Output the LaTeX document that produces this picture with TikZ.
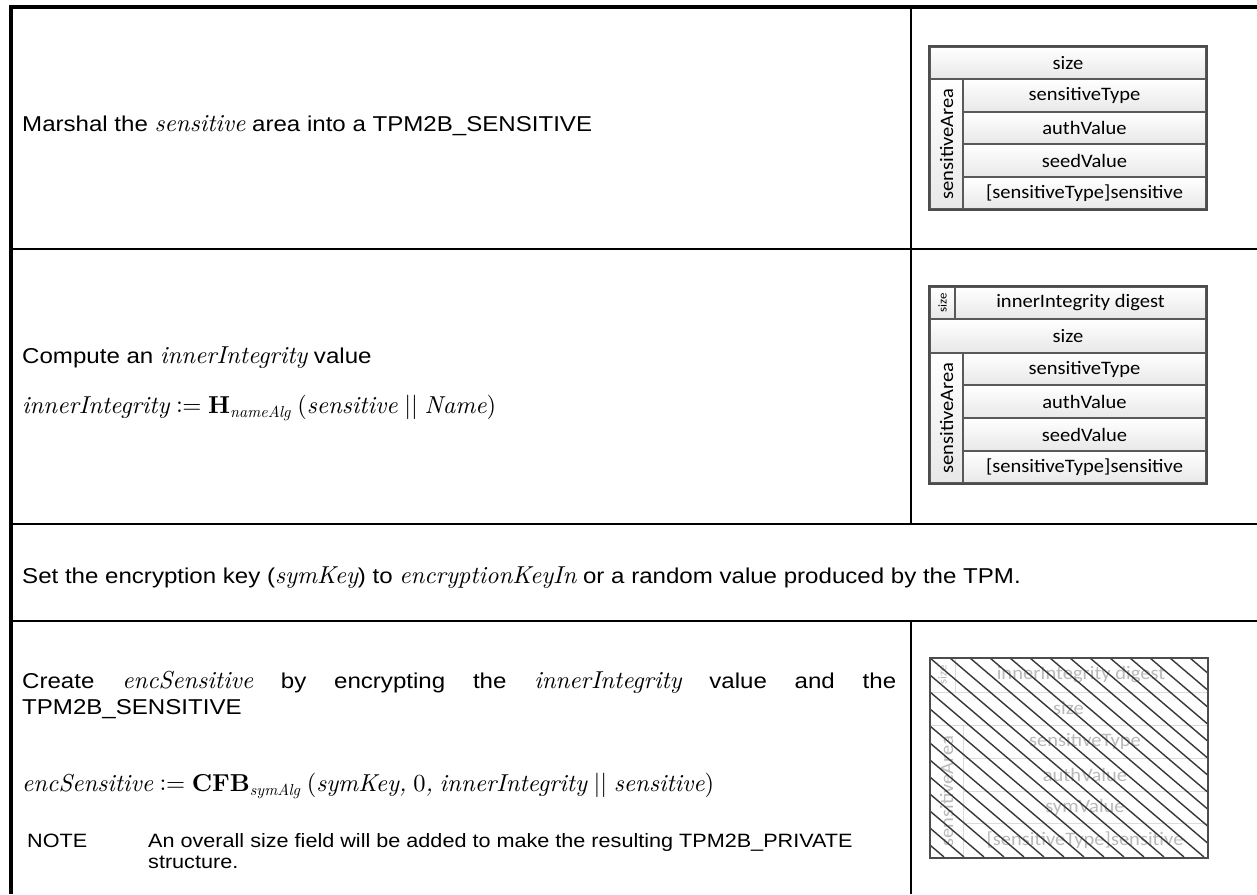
\documentclass[tikz,border=0pt]{standalone}
\usepackage{fontspec}
\setmainfont[FakeStretch=1.12]{Liberation Sans}
\newfontfamily\boxfont[FakeStretch=1.08]{Carlito}
\newfontfamily\mfont{lmroman10}[Extension=.otf, UprightFont=*-regular, ItalicFont=*-italic, BoldFont=*-bold]
\newcommand{\msize}{\fontsize{24.5}{26}\selectfont}
\newcommand{\vi}[1]{{\mfont\itshape\msize #1}}
\newcommand{\vb}[1]{{\mfont\bfseries\msize #1}}
\newcommand{\vsub}[1]{\raisebox{-4pt}{\mfont\itshape\fontsize{16}{16}\selectfont #1}}
\newcommand{\defeq}{{\mfont\msize\raisebox{1pt}{:}\kern-0.5pt=}}
\newcommand{\vup}[1]{{\mfont\msize #1}}
\tikzset{
  frame/.style={line width=4pt, black},
  rule/.style={line width=1.8pt, black},
  txt/.style={anchor=base west, inner sep=0pt, font=\fontsize{21.5}{26}\selectfont},
  notetxt/.style={anchor=base west, inner sep=0pt, font=\fontsize{19.3}{21}\selectfont},
  cell/.style={draw=black!65, line width=1.2pt, top color=white, bottom color=black!9,
    inner sep=0pt, font=\boxfont\fontsize{19}{19}\selectfont, text=black},
  ghost/.style={draw=black!14, line width=1pt, fill=white, inner sep=0pt,
    font=\boxfont\fontsize{19}{19}\selectfont, text=black!27},
  vlabel/.style={inner sep=0pt, font=\boxfont\fontsize{19}{19}\selectfont, text=black},
  vlabelsmall/.style={inner sep=0pt, font=\boxfont\fontsize{12}{12}\selectfont, text=black},
  boxedge/.style={draw=black!70, line width=2pt},
  hatch/.style={black!78, line width=1.4pt},
}
\begin{document}
\begin{tikzpicture}[x=1pt,y=-1pt]
\useasboundingbox (0,0) rectangle (1257,894);

% table rules
\draw[frame] (11,894) -- (11,7) -- (1257,7);
\draw[rule] (11,249) -- (1257,249);
\draw[rule] (11,524) -- (1257,524);
\draw[rule] (11,621) -- (1257,621);
\draw[rule] (911,7) -- (911,524);
\draw[rule] (911,621) -- (911,894);

% row 1
\node[txt] (t1) at (22,131) {Marshal the \vi{sensitive} area into a TPM2B\_SENSITIVE};

% row 2
\node[txt] (t2a) at (22,363) {Compute an \vi{innerIntegrity} value};
\node[txt] (t2b) at (22,413) {\vi{innerIntegrity} \defeq{} \vb{H}\vsub{nameAlg} \vup{(}\vi{sensitive} \vup{||} \vi{Name}\vup{)}};

% row 3
\node[txt] (t3) at (22,583) {Set the encryption key (\vi{symKey}) to \vi{encryptionKeyIn} or a random value produced by the TPM.};

% row 4
\node[txt] (t4a) at (22,688) {\makebox[874pt][s]{Create \vi{encSensitive} by encrypting the \vi{innerIntegrity} value and the}};
\node[txt] (t4b) at (22,714) {TPM2B\_SENSITIVE};
\node[txt] (t4c) at (22,791) {\vi{encSensitive} \defeq{} \vb{CFB}\vsub{symAlg} \vup{(}\vi{symKey,} \vup{0}\vi{,} \vi{innerIntegrity} \vup{||} \vi{sensitive}\vup{)}};
\node[notetxt] (n1) at (27,847) {NOTE};
\node[notetxt] (n2) at (148,847) {An overall size field will be added to make the resulting TPM2B\_PRIVATE};
\node[notetxt] (n3) at (148,868) {structure.};

% box 1
\node[cell, minimum width=276, minimum height=32] (b1size) at (1068,63) {size};
\node[cell, minimum width=33, minimum height=130] (b1area) at (946.5,144) {};
\node[vlabel, rotate=90] (b1arealbl) at (b1area.center) {sensitiveArea};
\node[cell, minimum width=243, minimum height=33] (b1t) at (1084.5,95.5) {sensitiveType};
\node[cell, minimum width=243, minimum height=32] (b1a) at (1084.5,128) {authValue};
\node[cell, minimum width=243, minimum height=33] (b1s) at (1084.5,160.5) {seedValue};
\node[cell, minimum width=243, minimum height=32] (b1x) at (1084.5,193) {[sensitiveType]sensitive};
\draw[boxedge] (b1size.north west) rectangle (b1x.south east);

% box 2
\node[cell, minimum width=25, minimum height=32] (b2sz) at (942.5,303) {};
\node[vlabelsmall, rotate=90] (b2szlbl) at (b2sz.center) {size};
\node[cell, minimum width=251, minimum height=32] (b2d) at (1080.5,303) {innerIntegrity digest};
\node[cell, minimum width=276, minimum height=34] (b2size) at (1068,336) {size};
\node[cell, minimum width=33, minimum height=130] (b2area) at (946.5,418) {};
\node[vlabel, rotate=90] (b2arealbl) at (b2area.center) {sensitiveArea};
\node[cell, minimum width=243, minimum height=32] (b2t) at (1084.5,369) {sensitiveType};
\node[cell, minimum width=243, minimum height=33] (b2a) at (1084.5,401.5) {authValue};
\node[cell, minimum width=243, minimum height=33] (b2s) at (1084.5,434.5) {seedValue};
\node[cell, minimum width=243, minimum height=32] (b2x) at (1084.5,467) {[sensitiveType]sensitive};
\draw[boxedge] (b2sz.north west) rectangle (b2x.south east);

% box 3 (encrypted, hatched)
\node[ghost, minimum width=25, minimum height=34] (b3sz) at (942.5,675) {};
\node[vlabelsmall, rotate=90, text=black!27] (b3szlbl) at (b3sz.center) {size};
\node[ghost, minimum width=252, minimum height=34] (b3d) at (1081,675) {innerIntegrity digest};
\node[ghost, minimum width=277, minimum height=33] (b3size) at (1068.5,708.5) {size};
\node[ghost, minimum width=33, minimum height=132] (b3area) at (946.5,791) {};
\node[vlabel, rotate=90, text=black!27] (b3arealbl) at (b3area.center) {sensitiveArea};
\node[ghost, minimum width=244, minimum height=33] (b3t) at (1085,741.5) {sensitiveType};
\node[ghost, minimum width=244, minimum height=33] (b3a) at (1085,774.5) {authValue};
\node[ghost, minimum width=244, minimum height=32] (b3s) at (1085,807) {symValue};
\node[ghost, minimum width=244, minimum height=34] (b3x) at (1085,840) {[sensitiveType]sensitive};
\begin{scope}
  \clip (930,658) rectangle (1207,857);
  \foreach \k in {-13,...,14}
    \draw[hatch] ({930+20*\k},658) -- ({930+20*\k+234},857);
\end{scope}
\draw[boxedge] (b3sz.north west) rectangle (b3x.south east);
\end{tikzpicture}
\end{document}
